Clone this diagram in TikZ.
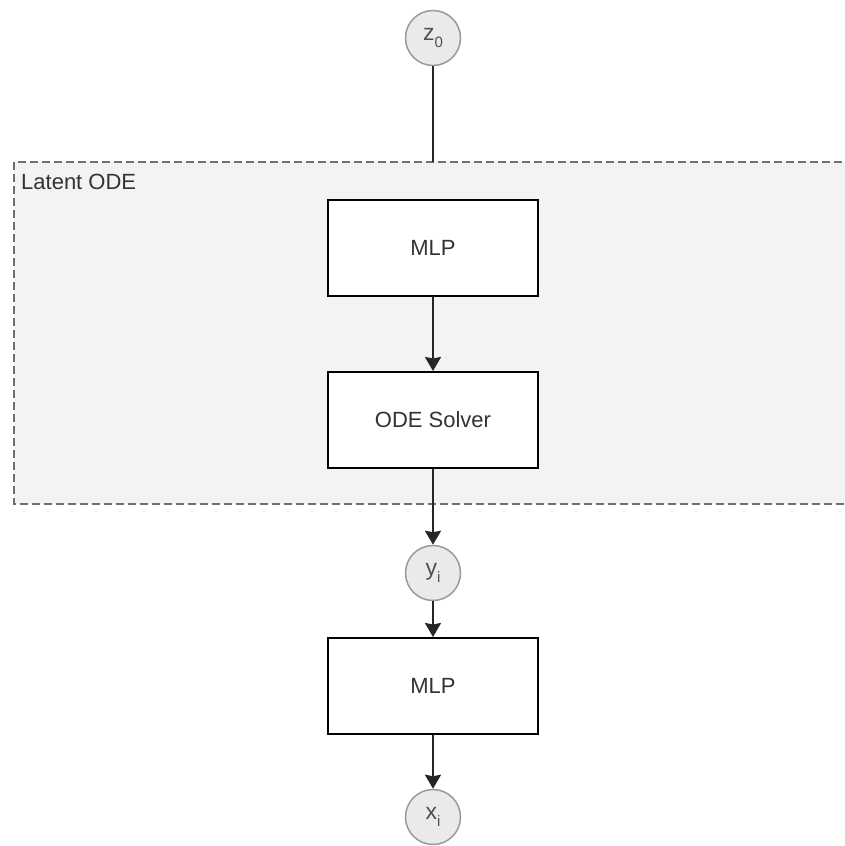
\documentclass[tikz,border=0pt]{standalone}
\usepackage{fontspec}
\setmainfont{Liberation Sans}
\usetikzlibrary{arrows.meta}

\definecolor{groupfill}{HTML}{F3F3F3}
\definecolor{groupline}{HTML}{707070}
\definecolor{varfill}{HTML}{EAEAEA}
\definecolor{varline}{HTML}{9A9A9A}
\definecolor{boxtext}{HTML}{333333}
\definecolor{vartext}{HTML}{505050}

\tikzset{
  layerbox/.style={draw=black, line width=2pt, fill=white,
    minimum width=210pt, minimum height=96pt, inner sep=0pt,
    text=boxtext, font=\fontsize{22}{26}\selectfont},
  varnode/.style={circle, draw=varline, line width=1.5pt, fill=varfill,
    minimum size=55pt, inner sep=0pt, text=vartext,
    font=\fontsize{23}{26}\selectfont},
  flow/.style={line width=2pt, draw=black!85},
  flowarrow/.style={flow, -{Stealth[inset=1.5pt, width=16pt, length=14pt]}},
  groupframe/.style={draw=groupline, line width=1.5pt, fill=groupfill,
    dash pattern=on 8pt off 4pt}
}

\newcommand{\varsub}[2]{#1\raisebox{-0.28em}{\fontsize{15}{15}\selectfont #2}}

\begin{document}
\begin{tikzpicture}[x=1pt, y=-1pt]
  \useasboundingbox (0,0) rectangle (845,846);

  % latent ODE group (its right edge runs past the page)
  \begin{scope}
    \clip (0,0) rectangle (845,846);
    \draw[groupframe] (14,162) rectangle (860,504);
  \end{scope}
  \node[anchor=west, text=boxtext, font=\fontsize{22}{26}\selectfont,
        inner sep=0pt] (grouplabel) at (21,182) {Latent ODE};

  % nodes
  \node[varnode] (z0) at (433,38) {\varsub{z}{0}};
  \node[layerbox] (mlpa) at (433,248) {MLP};
  \node[layerbox] (solver) at (433,420) {ODE Solver};
  \node[varnode] (yi) at (433,573) {\varsub{y}{i}};
  \node[layerbox] (mlpb) at (433,686) {MLP};
  \node[varnode] (xi) at (433,817) {\varsub{x}{i}};
  \coordinate (grouptop) at (433,162);

  % connectors
  \draw[flow] (z0) -- (grouptop);
  \draw[flowarrow] (mlpa) -- (solver);
  \draw[flowarrow] (solver) -- (yi);
  \draw[flowarrow] (yi) -- (mlpb);
  \draw[flowarrow] (mlpb) -- (xi);
\end{tikzpicture}
\end{document}
